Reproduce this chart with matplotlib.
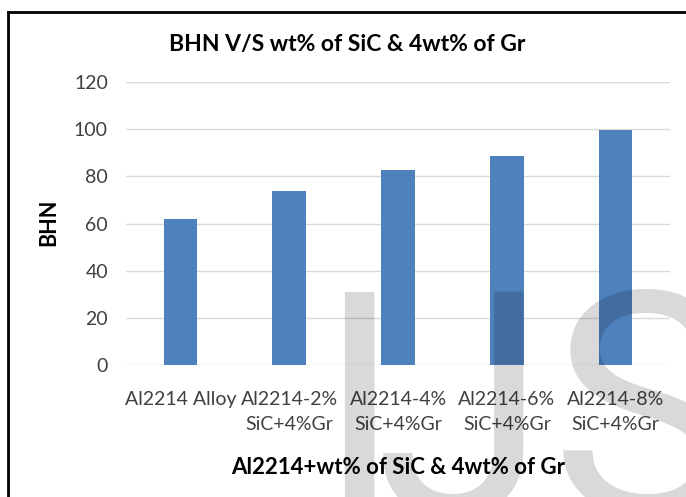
import matplotlib.pyplot as plt
from matplotlib.lines import Line2D

categories = ["Al2214 Alloy", "Al2214-2%\nSiC+4%Gr", "Al2214-4%\nSiC+4%Gr",
              "Al2214-6%\nSiC+4%Gr", "Al2214-8%\nSiC+4%Gr"]
bhn = [62.1, 73.7, 82.8, 88.8, 99.7]
yticks = [0, 20, 40, 60, 80, 100, 120]

plt.rcParams['font.family'] = ['Lato', 'DejaVu Sans']

fig = plt.figure(figsize=(6.86, 4.97), dpi=100)
ax = fig.add_axes([0.1837, 0.2656, 0.793, 0.5694])

x = range(len(categories))
ax.bar(x, bhn, width=0.31, color="#4F81BD", zorder=2)
ax.set_xlim(-0.5, len(categories) - 0.5)
ax.set_ylim(0, 120)
ax.set_yticks(yticks)
ax.set_xticks(list(x))
ax.set_xticklabels(categories, linespacing=1.55)
ax.grid(axis="y", color="#D9D9D9", linewidth=1, zorder=0)
for s in ax.spines.values():
    s.set_visible(False)
ax.tick_params(axis="both", length=0, labelsize=14, labelcolor="#404040")
ax.tick_params(axis="y", pad=13)
ax.tick_params(axis="x", pad=19)

fig.text(347 / 686, 1 - 45 / 497, "BHN V/S wt% of SiC & 4wt% of Gr",
         fontsize=16.5, fontweight="bold", ha="center", va="center")
ax.set_xlabel("Al2214+wt% of SiC & 4wt% of Gr", fontsize=16, fontweight="bold", labelpad=17)
fig.text(49 / 686, 1 - 222 / 497, "BHN", fontsize=15.5, fontweight="bold",
         rotation=90, ha="center", va="center")

# outer chart border (right/bottom run off the image)
fig.add_artist(Line2D([8 / 686, 8 / 686], [0, 1 - 12 / 497], color="black", lw=2))
fig.add_artist(Line2D([8 / 686, 1], [1 - 12 / 497, 1 - 12 / 497], color="black", lw=2))

# watermark
wm = dict(fontsize=225, family="Roboto", color="black", alpha=0.15, va="baseline", zorder=10)
fig.text(316 / 686, 1 - 515 / 497, "I", ha="left", **wm)
fig.text(547 / 686, 1 - 515 / 497, "J", ha="right", **wm)
fig.text(551 / 686, 1 - 515 / 497, "S", ha="left", **wm)

fig.savefig("out.png", dpi=100)
